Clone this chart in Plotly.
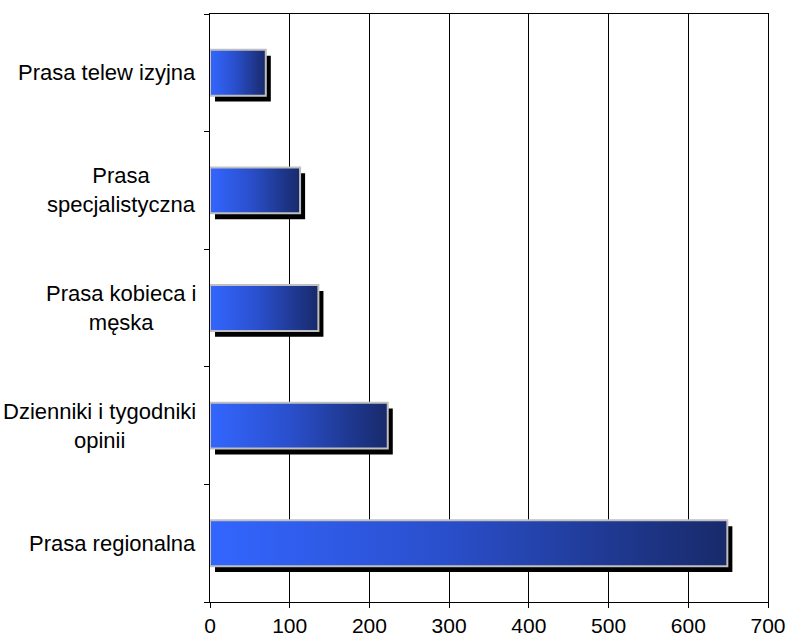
import plotly.graph_objects as go

# Press segments (bottom to top) and their values
categories = [
    "Prasa regionalna",
    "Dzienniki i tygodniki<br>opinii",
    "Prasa kobieca i<br>męska",
    "Prasa<br>specjalistyczna",
    "Prasa telew izyjna",
]
values = [649, 223, 136, 113, 70]
x_ticks = [0, 100, 200, 300, 400, 500, 600, 700]

BAR_HALF = 0.195      # half bar thickness in category units
SHADOW_DX = 6.3       # drop-shadow offset along the value axis
SHADOW_DY = 0.05      # drop-shadow offset along the category axis

FONT = "Liberation Sans, Arial, sans-serif"

fig = go.Figure()

# drop shadows
for i, v in enumerate(values):
    x0, x1 = SHADOW_DX, v + SHADOW_DX
    y0, y1 = i - BAR_HALF - SHADOW_DY, i + BAR_HALF - SHADOW_DY
    fig.add_trace(go.Scatter(
        x=[x0, x1, x1, x0, x0], y=[y0, y0, y1, y1, y0],
        mode="lines", fill="toself", fillcolor="black",
        line=dict(color="black", width=0),
        hoverinfo="skip", showlegend=False,
    ))

# gradient bars
for i, v in enumerate(values):
    y0, y1 = i - BAR_HALF, i + BAR_HALF
    fig.add_trace(go.Scatter(
        x=[0, v, v, 0, 0], y=[y0, y0, y1, y1, y0],
        mode="lines", fill="toself",
        fillgradient=dict(type="horizontal",
                          colorscale=[[0, "#3366ff"], [0.45, "#2a4fcc"], [1, "#182a6a"]]),
        line=dict(color="#c0c0c0", width=2),
        name=categories[i].replace("<br>", " "),
        hovertemplate="%{x}<extra></extra>",
        showlegend=False,
    ))

# category labels
for i, cat in enumerate(categories):
    fig.add_annotation(
        x=0, xref="paper", y=i, yref="y",
        text=cat, showarrow=False, xanchor="right", xshift=-12,
        align="center", font=dict(family=FONT, size=22, color="black"),
    )

fig.update_layout(
    width=790, height=639,
    margin=dict(l=210, r=22, t=14, b=37, autoexpand=False),
    paper_bgcolor="white", plot_bgcolor="white",
    font=dict(family=FONT, color="black"),
    showlegend=False,
    xaxis=dict(
        range=[0, 700], tickvals=x_ticks, ticktext=[str(t) for t in x_ticks],
        showgrid=True, gridcolor="black", gridwidth=1,
        showline=True, linecolor="black", linewidth=1, mirror=True,
        ticks="outside", ticklen=5, tickcolor="black",
        tickfont=dict(family=FONT, size=21, color="black"),
        zeroline=False, fixedrange=True, automargin=False,
    ),
    yaxis=dict(
        range=[-0.5, 4.5],
        tickvals=[-0.5, 0.5, 1.5, 2.5, 3.5, 4.5], ticktext=[""] * 6,
        showgrid=False, zeroline=False,
        showline=True, linecolor="black", linewidth=1, mirror=True,
        ticks="outside", ticklen=5, tickcolor="black",
        fixedrange=True, automargin=False,
    ),
)

fig.write_html("out.html")
